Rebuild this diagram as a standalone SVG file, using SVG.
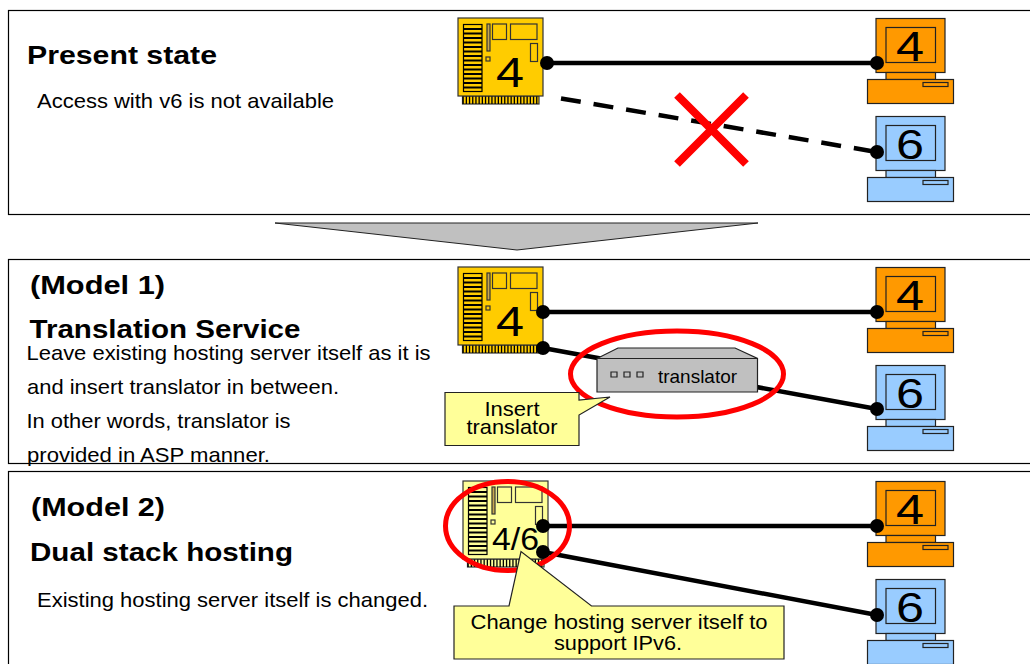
<svg xmlns="http://www.w3.org/2000/svg" width="1030" height="664" viewBox="0 0 1030 664">
<style>
text{font-family:"Liberation Sans",Arial,sans-serif;fill:#000}
.frame{fill:#fff;stroke:#000;stroke-width:1.200}
.h{font-size:25px;font-weight:bold}
.b{font-size:21px}
.num{font-size:43px}
.ln{fill:none;stroke:#000;stroke-width:4.500}
.ring{fill:none;stroke:#f00;stroke-width:5}
.call{fill:#ffff99;stroke:#222;stroke-width:1.200}
.ct{font-size:21px}
</style>
<defs>
<g id="server" stroke="#333" stroke-width="1.200">
<rect x="4.500" y="78" width="76.500" height="8"/>
<path d="M4.500 82H81" stroke="#000" stroke-width="8" stroke-dasharray="1.300 1.900" fill="none"/>
<rect x="0" y="0" width="85" height="78"/>
<rect x="5.500" y="6.500" width="18.500" height="67" stroke="#000"/>
<path d="M5.500 11h18.500M5.500 15.500h18.500M5.500 20h18.500M5.500 24.500h18.500M5.500 29h18.500M5.500 33.500h18.500M5.500 38h18.500M5.500 42.500h18.500M5.500 47h18.500M5.500 51.500h18.500M5.500 56h18.500M5.500 60.500h18.500M5.500 65h18.500M5.500 69.500h18.500" stroke="#000" stroke-width="2" fill="none"/>
<rect x="29" y="6" width="3" height="27" fill="#c8a850"/>
<rect x="34.500" y="6" width="14" height="15.500" fill="none"/>
<rect x="52.500" y="6" width="26.500" height="15.500" fill="none"/>
<rect x="72.500" y="25.500" width="7" height="18" fill="none"/>
<rect x="28" y="39" width="4" height="4" fill="none"/>
</g>
<g id="pc" stroke="#222" stroke-width="1.200">
<rect x="8.500" y="0" width="69" height="54"/>
<rect x="18.500" y="9" width="49.500" height="35" fill="none"/>
<rect x="18.500" y="54" width="49.500" height="7"/>
<rect x="0" y="61" width="86" height="24"/>
<rect x="55.500" y="64" width="25" height="4" fill="none"/>
</g>
<circle id="dot" r="7" fill="#000"/>
</defs>

<g id="panel-present">
<rect class="frame" x="8.500" y="10.500" width="1030" height="204"/>
<text class="h" x="27" y="63.500" textLength="190" lengthAdjust="spacingAndGlyphs">Present state</text>
<text class="b" x="37" y="108" textLength="297" lengthAdjust="spacingAndGlyphs">Access with v6 is not available</text>
</g>
<g id="arrow-down"><polygon points="275,223 758,223 517,250" fill="#c0c0c0" stroke="#222"/></g>
<g id="panel-model1">
<rect class="frame" x="8.500" y="259.500" width="1030" height="204"/>
<text class="h" x="30" y="294" textLength="135" lengthAdjust="spacingAndGlyphs">(Model 1)</text>
<text class="h" x="29.500" y="338" textLength="271" lengthAdjust="spacingAndGlyphs">Translation Service</text>
<text class="b" x="26.500" y="360" textLength="404" lengthAdjust="spacingAndGlyphs">Leave existing hosting server itself as it is</text>
<text class="b" x="27" y="394" textLength="312" lengthAdjust="spacingAndGlyphs">and insert translator in between.</text>
<text class="b" x="26.500" y="428" textLength="264" lengthAdjust="spacingAndGlyphs">In other words, translator is</text>
<text class="b" x="27" y="461.500" textLength="243" lengthAdjust="spacingAndGlyphs">provided in ASP manner.</text>
</g>
<g id="panel-model2">
<rect class="frame" x="8.500" y="471.500" width="1030" height="204"/>
<text class="h" x="31" y="516" textLength="134" lengthAdjust="spacingAndGlyphs">(Model 2)</text>
<text class="h" x="30" y="561" textLength="263" lengthAdjust="spacingAndGlyphs">Dual stack hosting</text>
<text class="b" x="37" y="607" textLength="391" lengthAdjust="spacingAndGlyphs">Existing hosting server itself is changed.</text>
</g>

<g id="connectors">
<line class="ln" x1="547" y1="63" x2="877" y2="63"/>
<path d="M561 98.500L877 152" fill="none" stroke="#000" stroke-width="4.500" stroke-dasharray="20 13"/>
<line class="ln" x1="543" y1="312" x2="877" y2="312"/>
<line class="ln" x1="543" y1="348" x2="877" y2="409"/>
<line class="ln" x1="543" y1="526" x2="877" y2="526"/>
<line class="ln" x1="543" y1="552" x2="877" y2="615"/>
</g>

<g id="server-present"><use href="#server" x="458" y="18" fill="#ffcc00"/><text class="num" x="496" y="87" textLength="28" lengthAdjust="spacingAndGlyphs">4</text><use href="#dot" x="547" y="63"/></g>
<g id="pc-present-4"><use href="#pc" x="867.500" y="18.500" fill="#ff9900"/><text class="num" x="896" y="61" textLength="28" lengthAdjust="spacingAndGlyphs">4</text><use href="#dot" x="877" y="63"/></g>
<g id="pc-present-6"><use href="#pc" x="867.500" y="116.500" fill="#99ccff"/><text class="num" x="896" y="159" textLength="28" lengthAdjust="spacingAndGlyphs">6</text><use href="#dot" x="877" y="152"/></g>
<g id="cross"><path d="M677 95L746 164M746 95L677 164" fill="none" stroke="#f00" stroke-width="8"/></g>

<g id="server-model1"><use href="#server" x="458" y="267" fill="#ffcc00"/><text class="num" x="496" y="336" textLength="28" lengthAdjust="spacingAndGlyphs">4</text><use href="#dot" x="543" y="348"/><use href="#dot" x="543" y="312"/></g>
<g id="pc-model1-4"><use href="#pc" x="867.500" y="267.500" fill="#ff9900"/><text class="num" x="896" y="310" textLength="28" lengthAdjust="spacingAndGlyphs">4</text><use href="#dot" x="877" y="312"/></g>
<g id="pc-model1-6"><use href="#pc" x="867.500" y="365.500" fill="#99ccff"/><text class="num" x="896" y="408" textLength="28" lengthAdjust="spacingAndGlyphs">6</text><use href="#dot" x="877" y="409"/></g>
<g id="translator">
<path d="M597 358.500L618 348H735L757.500 358.500V392H597Z" fill="#c0c0c0" stroke="#222" stroke-width="1.200"/>
<path d="M597 358.500H757.500" fill="none" stroke="#222" stroke-width="1.200"/>
<path d="M611 372h6v5h-6zM624 372h6v5h-6zM637 372h6v5h-6z" fill="none" stroke="#222" stroke-width="1.200"/>
<text x="658" y="383" font-size="18.500" textLength="79" lengthAdjust="spacingAndGlyphs">translator</text>
</g>
<g id="ring-translator"><ellipse class="ring" cx="677" cy="374" rx="106.500" ry="43"/></g>
<g id="callout-insert">
<path class="call" d="M445 392.500H579V400L610 397L579 415V445.500H445Z"/>
<text class="ct" x="484.500" y="416" textLength="55" lengthAdjust="spacingAndGlyphs">Insert</text>
<text class="ct" x="466.500" y="434" textLength="91" lengthAdjust="spacingAndGlyphs">translator</text>
</g>

<g id="server-model2"><use href="#server" x="463" y="481" fill="#ffff99"/><text x="492" y="550" font-size="31" textLength="47" lengthAdjust="spacingAndGlyphs">4/6</text><use href="#dot" x="543" y="526"/><use href="#dot" x="543" y="552"/></g>
<g id="pc-model2-4"><use href="#pc" x="867.500" y="481.500" fill="#ff9900"/><text class="num" x="896" y="524" textLength="28" lengthAdjust="spacingAndGlyphs">4</text><use href="#dot" x="877" y="526"/></g>
<g id="pc-model2-6"><use href="#pc" x="867.500" y="579.500" fill="#99ccff"/><text class="num" x="896" y="622" textLength="28" lengthAdjust="spacingAndGlyphs">6</text><use href="#dot" x="877" y="615"/></g>
<g id="ring-server"><ellipse class="ring" cx="507.500" cy="526" rx="62" ry="44.500"/></g>
<g id="callout-change">
<path class="call" d="M454 606H509L521 551.500L591.500 606H784V659H454Z"/>
<text class="ct" x="470.500" y="629" textLength="297" lengthAdjust="spacingAndGlyphs">Change hosting server itself to</text>
<text class="ct" x="554" y="650" textLength="128" lengthAdjust="spacingAndGlyphs">support IPv6.</text>
</g>
</svg>
